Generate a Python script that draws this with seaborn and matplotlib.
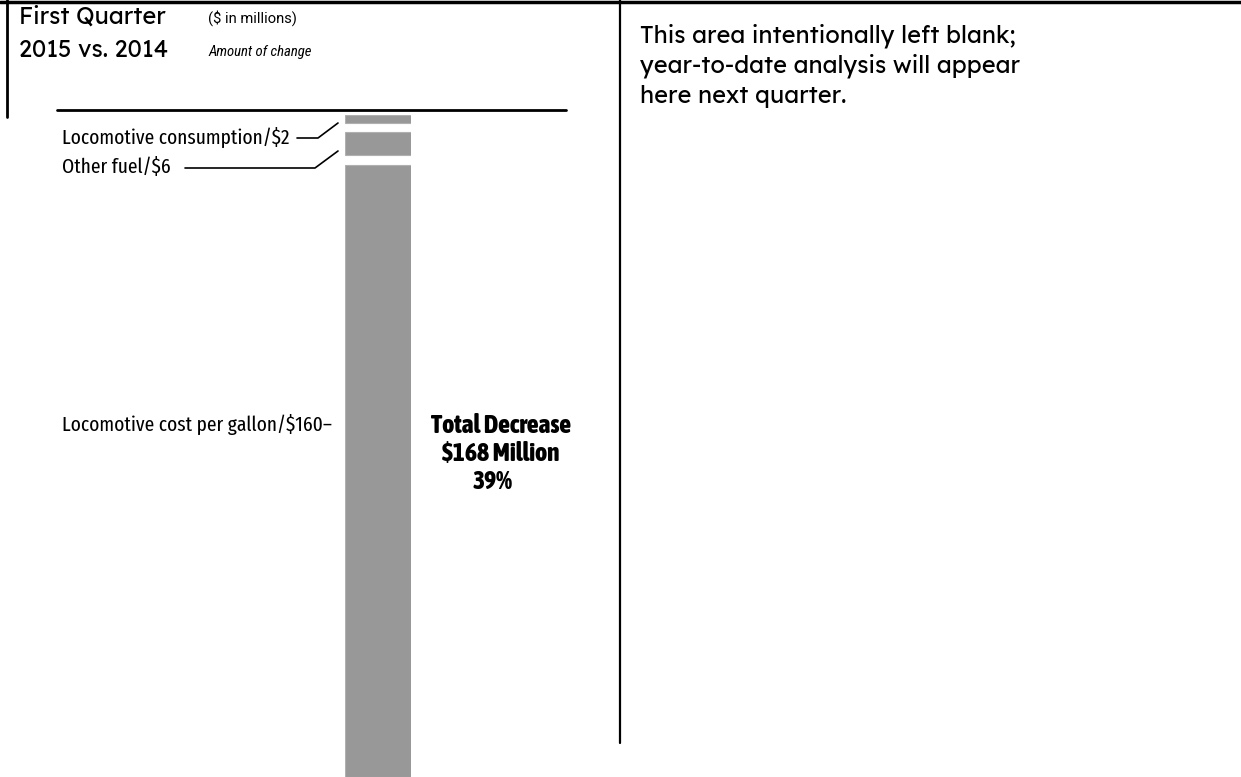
import matplotlib
matplotlib.use("Agg")
import matplotlib.pyplot as plt
import seaborn as sns
import pandas as pd
from matplotlib import font_manager as fm
from matplotlib.font_manager import FontProperties
from matplotlib.textpath import TextPath

# ---- data ----
components = ["Locomotive consumption", "Other fuel", "Locomotive cost per gallon"]
values = [2, 6, 160]
label_texts = ["Locomotive consumption/$2", "Other fuel/$6", "Locomotive cost per gallon/$160\u2013"]
total_lines = ["Total Decrease", "$168 Million", "39%"]
title_lines = ["First Quarter", "2015 vs. 2014"]
unit_lines = ["($ in millions)", "Amount of change"]
note_lines = ["This area intentionally left blank;", "year-to-date analysis will appear",
              "here next quarter."]

sns.set_theme(style="white")
plt.rcParams["font.family"] = ["DejaVu Sans"]
plt.rcParams["text.color"] = "black"

GEO = ["Jost", "League Spartan", "Spartan", "Questrial", "Didact Gothic", "Kumbh Sans",
       "Outfit", "Urbanist", "Poppins", "Lexend", "Montserrat", "Century Gothic", "Futura",
       "Nunito Sans", "Mulish", "DejaVu Sans"]
COND = ["Barlow Condensed", "Roboto Condensed", "Oswald", "Archivo Narrow", "PT Sans Narrow",
        "Saira Condensed", "Saira Extra Condensed", "Encode Sans Condensed",
        "Fira Sans Condensed", "Fira Sans Extra Condensed", "Sofia Sans Condensed",
        "Sofia Sans Extra Condensed", "IBM Plex Sans Condensed", "Asap Condensed",
        "Pragati Narrow", "Open Sans Condensed", "Barlow Semi Condensed", "Antonio",
        "Liberation Sans Narrow", "Roboto"]
names = {f.name for f in fm.fontManager.ttflist}
italic_names = {f.name for f in fm.fontManager.ttflist if f.style in ("italic", "oblique")}


def choose(cands, text, cap_px, width_px, weight="normal", style="normal"):
    """Pick the installed family whose glyphs give the wanted cap height and width."""
    best = None
    for fam in cands:
        if fam not in names:
            continue
        if style != "normal" and fam not in italic_names:
            continue
        fp = FontProperties(family=fam, weight=weight, style=style)
        try:
            fm.findfont(fp, fallback_to_default=False)
            cap = TextPath((0, 0), "H", size=1, prop=fp).get_extents().height
            w = TextPath((0, 0), text, size=1, prop=fp).get_extents().width
        except Exception:
            continue
        if cap <= 0:
            continue
        size_px = cap_px / cap
        err = abs(size_px * w - width_px) / width_px
        if best is None or err < best[0]:
            best = (err, fam, size_px * 72 / 100)
    if best is None:
        return "DejaVu Sans", cap_px / 0.73 * 0.72
    return best[1], best[2]


W, H = 1241, 777
fig = plt.figure(figsize=(W / 100, H / 100), dpi=100)
fig.patch.set_facecolor("white")

# ---- bar axes (data units, inverted so stacking goes downward) ----
gap = 2.5
bar_top_px, bar_bot_px = 115, 777
bl, bw = 345 / W, 66 / W
axb = fig.add_axes([bl, 0, bw, (H - bar_top_px) / H])
starts = []
s = 0
for v in values:
    starts.append(s)
    s += v + gap
total_extent = s - gap
df = pd.DataFrame({"slot": ["bar"] * len(values), "value": values, "start": starts,
                   "component": components})
for i, row in df.iterrows():
    sns.barplot(data=df.iloc[[i]], x="slot", y="value", bottom=row["start"],
                color="#989898", width=1.0, edgecolor="#b0b0b0", linewidth=0.8,
                saturation=1, ax=axb)
axb.set_ylim(total_extent, 0)
axb.set_xlim(-0.5, 0.5)
axb.axis("off")

# ---- overlay axes in pixel coordinates for text and rules ----
ax = fig.add_axes([0, 0, 1, 1], zorder=3)
ax.set_xlim(0, W)
ax.set_ylim(H, 0)
ax.axis("off")
ax.patch.set_alpha(0)

k = "black"
ax.plot([0, W], [2, 2], color=k, lw=2.5)
ax.plot([7, 7], [0, 117], color=k, lw=2)
ax.plot([620, 620], [0, 743], color=k, lw=1.6)
ax.plot([57, 566], [110, 110], color=k, lw=2)
# leader lines
ax.plot([297, 318, 338], [138, 138, 123], color=k, lw=1.2)
ax.plot([185, 315, 338], [168, 168, 151], color=k, lw=1.2)


def draw(lines, xs, ys, fam, size, ha="left", **kw):
    for t, x, y in zip(lines, xs, ys):
        ax.text(x, y, t, fontsize=size, fontfamily=[fam, "DejaVu Sans"], ha=ha,
                va="baseline", **kw)


fam, sz = choose(GEO, note_lines[0], 16.5, 412, weight="light")
draw(note_lines, [640] * 3, [43, 73, 103], fam, sz, fontweight="light")
fam_t, sz_t = choose(GEO, title_lines[0], 16.5, 163, weight="light")
draw(title_lines, [19, 19], [24, 57], fam_t, sz_t, fontweight="light")

fam, sz = choose(COND, unit_lines[0], 10.5, 87)
draw(unit_lines[:1], [208], [23], fam, sz)
fam, sz = choose(COND, unit_lines[1], 10.5, 103, style="italic")
draw(unit_lines[1:], [208], [56], fam, sz, style="italic")

fam, sz = choose(COND, label_texts[0], 14.5, 221)
draw(label_texts, [62, 62, 62], [144, 173, 431], fam, sz)

fam, sz = choose(COND, total_lines[0], 18, 140, weight="heavy")
draw(total_lines, [501, 501, 493], [433, 461, 489], fam, sz, ha="center", fontweight="heavy")

fig.savefig("out.png", dpi=100, facecolor="white")
